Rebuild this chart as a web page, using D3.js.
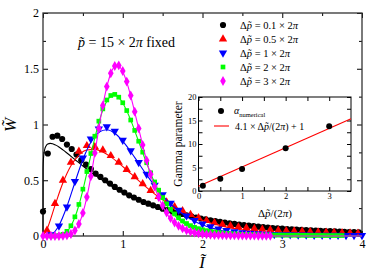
<!DOCTYPE html>
<html>
<head>
<meta charset="utf-8">
<script src="https://cdn.jsdelivr.net/npm/d3@7"></script>
<style>
  body { margin: 0; background: #fff; }
  svg { display: block; }
</style>
</head>
<body>
<div id="chart"></div>
<script>
// numerical distributions (markers) and gamma fits (lines)
const blackI = [0,0.06,0.12,0.18,0.24,0.30,0.36,0.42,0.48,0.54,0.60,0.66,0.72,0.78,0.84,0.90,0.96,1.02,1.08,1.14,1.20,1.26,1.32,1.38,1.44,1.50,1.56,1.62,1.68,1.74,1.80,1.86,1.92,1.98,2.04,2.10,2.16,2.22,2.28,2.34,2.40,2.46,2.52,2.58,2.64,2.70,2.76,2.82,2.88,2.94,3.00,3.06,3.12,3.18,3.24,3.30,3.36,3.42,3.48,3.54,3.60,3.66,3.72,3.78,3.84,3.90,3.96];
const blackW = [0.22,0.74,0.89,0.90,0.87,0.82,0.78,0.73,0.68,0.64,0.60,0.56,0.53,0.50,0.47,0.44,0.415,0.39,0.365,0.345,0.325,0.305,0.29,0.275,0.26,0.245,0.232,0.22,0.208,0.197,0.186,0.176,0.166,0.157,0.149,0.141,0.134,0.127,0.120,0.114,0.108,0.103,0.098,0.093,0.088,0.084,0.080,0.076,0.072,0.069,0.066,0.063,0.060,0.058,0.055,0.053,0.051,0.049,0.047,0.045,0.043,0.041,0.039,0.037,0.036,0.034,0.033];
const blackFitI = [0,0.001,0.003,0.01,0.02,0.04,0.06,0.09,0.12,0.16,0.2,0.25,0.3,0.4,0.5,0.6,0.7,0.8,0.9,1.0,1.2,1.4,1.6,1.8,2.0,2.25,2.5,2.75,3.0,3.25,3.5,3.75,4.0];
const blackFitW = [0,0.584,0.651,0.729,0.772,0.810,0.825,0.831,0.828,0.815,0.798,0.772,0.744,0.686,0.628,0.573,0.522,0.474,0.429,0.389,0.318,0.259,0.211,0.171,0.139,0.107,0.082,0.063,0.048,0.037,0.028,0.022,0.017];

const redI = [0.05,0.15,0.25,0.35,0.45,0.55,0.65,0.75,0.85,0.95,1.05,1.15,1.25,1.35,1.45,1.55,1.65,1.75,1.85,1.95,2.05,2.15,2.25,2.35,2.45,2.55,2.65,2.75,2.85,2.95,3.05,3.15,3.25,3.35,3.45,3.55,3.65,3.75,3.85,3.95];
const redW = [0.05,0.29,0.50,0.66,0.76,0.81,0.80,0.77,0.72,0.66,0.595,0.53,0.467,0.408,0.354,0.305,0.262,0.225,0.192,0.163,0.138,0.118,0.103,0.091,0.081,0.073,0.066,0.060,0.055,0.051,0.047,0.044,0.041,0.038,0.035,0.033,0.031,0.029,0.027,0.025];
const redFitI = [0,0.05,0.15,0.25,0.35,0.45,0.55,0.65,0.75,0.85,0.95,1.05,1.15,1.25,1.35,1.45,1.55,1.65,1.75,1.85,1.95,2.05,2.15,2.25,2.35,2.45,2.55,2.65,2.75,2.85,2.95,3.05,3.15,3.25,3.35,3.45,3.55,3.65,3.75,3.85,3.95];
const redFitW = [0,0.061,0.273,0.477,0.630,0.726,0.771,0.777,0.753,0.710,0.654,0.592,0.528,0.465,0.405,0.350,0.301,0.256,0.217,0.183,0.153,0.128,0.107,0.088,0.073,0.060,0.050,0.041,0.033,0.027,0.022,0.018,0.015,0.012,0.010,0.008,0.006,0.005,0.004,0.003,0.003];

const blueI = [0.1,0.2,0.3,0.4,0.5,0.6,0.7,0.8,0.9,1.0,1.1,1.2,1.3,1.4,1.5,1.6,1.7,1.8,1.9,2.0,2.1,2.2,2.3,2.4,2.5,2.6,2.7,2.8,2.9,3.0,3.1,3.2,3.3,3.4,3.5,3.6,3.7,3.8,3.9,4.0];
const blueW = [0.012,0.09,0.26,0.49,0.70,0.87,0.96,0.98,0.94,0.86,0.765,0.66,0.555,0.457,0.37,0.295,0.232,0.181,0.141,0.108,0.083,0.064,0.050,0.039,0.031,0.025,0.020,0.017,0.014,0.012,0.011,0.010,0.009,0.008,0.008,0.007,0.007,0.006,0.006,0.005];
const blueFitI = [0,0.1,0.2,0.3,0.4,0.5,0.6,0.7,0.8,0.9,1.0,1.1,1.2,1.3,1.4,1.5,1.6,1.7,1.8,1.9,2.0,2.1,2.2,2.3,2.4,2.5,2.6,2.7,2.8,2.9,3.0,3.5,4.0];
const blueFitW = [0,0.012,0.095,0.265,0.480,0.686,0.841,0.930,0.953,0.921,0.850,0.756,0.652,0.548,0.450,0.363,0.288,0.226,0.174,0.133,0.100,0.075,0.056,0.041,0.030,0.022,0.016,0.011,0.008,0.006,0.004,0.0006,0.0001];

const greenI = [0.10,0.15,0.20,0.25,0.30,0.35,0.40,0.45,0.50,0.55,0.60,0.65,0.70,0.75,0.80,0.85,0.90,0.95,1.00,1.05,1.10,1.15,1.20,1.25,1.30,1.35,1.40,1.45,1.50,1.55,1.60,1.65,1.70,1.75,1.80,1.85,1.90,1.95,2.00,2.05,2.10,2.15,2.20,2.25,2.30,2.35,2.40,2.45,2.50,2.55,2.60,2.65,2.70,2.75,2.80,2.85,2.90,2.95,3.00,3.05,3.10,3.15,3.20,3.25,3.30,3.35,3.40,3.45,3.50,3.55,3.60,3.65,3.70,3.75];
const greenW = [0.000,0.001,0.004,0.015,0.042,0.092,0.172,0.283,0.420,0.578,0.740,0.895,1.03,1.14,1.22,1.26,1.27,1.245,1.195,1.125,1.04,0.947,0.850,0.752,0.657,0.567,0.485,0.411,0.345,0.288,0.239,0.198,0.163,0.135,0.112,0.093,0.078,0.066,0.056,0.048,0.041,0.036,0.031,0.027,0.024,0.021,0.019,0.017,0.015,0.014,0.013,0.012,0.011,0.010,0.010,0.009,0.009,0.008,0.008,0.007,0.007,0.007,0.006,0.006,0.006,0.005,0.005,0.005,0.005,0.004,0.004,0.004,0.004,0.004];
const greenFitI = [0,0.1,0.15,0.2,0.25,0.3,0.35,0.4,0.45,0.5,0.55,0.6,0.65,0.7,0.75,0.8,0.85,0.9,0.95,1.0,1.05,1.1,1.15,1.2,1.25,1.3,1.35,1.4,1.45,1.5,1.55,1.6,1.65,1.7,1.75,1.8,1.85,1.9,1.95,2.0,2.05,2.1,2.15,2.2,2.25,2.3,2.35,2.4,3.0,4.0];
const greenFitW = [0,0.000,0.001,0.004,0.015,0.041,0.090,0.168,0.276,0.411,0.565,0.725,0.880,1.017,1.129,1.208,1.252,1.262,1.241,1.193,1.123,1.039,0.945,0.846,0.747,0.651,0.561,0.478,0.403,0.336,0.278,0.228,0.186,0.150,0.121,0.096,0.076,0.060,0.047,0.037,0.028,0.022,0.017,0.013,0.010,0.007,0.006,0.004,0.0001,0];

const magentaI = [0,0.05,0.10,0.15,0.20,0.25,0.30,0.35,0.40,0.45,0.50,0.55,0.60,0.65,0.70,0.75,0.80,0.85,0.90,0.95,1.00,1.05,1.10,1.15,1.20,1.25,1.30,1.35,1.40,1.45,1.50,1.55,1.60,1.65,1.70,1.75,1.80,1.85,1.90,1.95,2.00,2.05,2.10,2.15,2.20,2.25,2.30,2.35,2.40,2.45,2.50,2.55,2.60,2.65,2.70,2.75,2.80,2.85];
const magentaW = [0,0,0,0,0,0.001,0.005,0.018,0.049,0.108,0.207,0.350,0.535,0.745,0.965,1.17,1.34,1.46,1.525,1.53,1.48,1.385,1.26,1.115,0.965,0.817,0.678,0.553,0.443,0.350,0.273,0.210,0.160,0.121,0.091,0.068,0.051,0.039,0.030,0.023,0.018,0.014,0.011,0.009,0.008,0.007,0.006,0.005,0.005,0.004,0.004,0.003,0.003,0.003,0.002,0.002,0.002,0.002];
const magentaFitI = [0,0.25,0.3,0.35,0.4,0.45,0.5,0.55,0.6,0.65,0.7,0.75,0.8,0.85,0.9,0.95,1.0,1.05,1.1,1.15,1.2,1.25,1.3,1.35,1.4,1.45,1.5,1.55,1.6,1.65,1.7,1.75,1.8,1.85,1.9,1.95,2.0,2.05,2.1,2.5,4.0];
const magentaFitW = [0,0.001,0.005,0.017,0.047,0.106,0.205,0.348,0.532,0.743,0.963,1.168,1.338,1.458,1.520,1.523,1.473,1.380,1.255,1.112,0.962,0.814,0.674,0.548,0.438,0.344,0.266,0.203,0.153,0.114,0.084,0.061,0.044,0.031,0.022,0.015,0.011,0.007,0.005,0.0003,0];

// inset: gamma parameter against delta p
const gammaDp = [0.1, 0.5, 1, 2, 3];
const gammaAlpha = [1.1, 2.6, 4.7, 9.1, 13.8];
const gammaLineDp = [0, 3.5];
const gammaLineAlpha = [1, 15.35];

const legendLabels = ['0.1', '0.5', '1', '2', '3'];

const width = 374, height = 271;
const serif = "'Liberation Serif', 'DejaVu Serif', serif";

const svg = d3.select('#chart').append('svg')
  .attr('width', width)
  .attr('height', height)
  .style('font-family', serif);

const x = d3.scaleLinear().domain([0, 4]).range([43, 362]);
const y = d3.scaleLinear().domain([0, 2]).range([236, 13]);

const series = [
  { name: 'black', color: '#000000', shape: 'circle', I: blackI, W: blackW, fitI: blackFitI, fitW: blackFitW },
  { name: 'red', color: '#ff0000', shape: 'up', I: redI, W: redW, fitI: redFitI, fitW: redFitW },
  { name: 'blue', color: '#0000ff', shape: 'down', I: blueI, W: blueW, fitI: blueFitI, fitW: blueFitW },
  { name: 'green', color: '#00ff00', shape: 'square', I: greenI, W: greenW, fitI: greenFitI, fitW: greenFitW },
  { name: 'magenta', color: '#ff00ff', shape: 'diamond', I: magentaI, W: magentaW, fitI: magentaFitI, fitW: magentaFitW }
];

series.forEach((s) => {
  if (s.I.length !== s.W.length || s.fitI.length !== s.fitW.length) {
    throw new Error('length mismatch in ' + s.name + ': ' + s.I.length + '/' + s.W.length + ' ' + s.fitI.length + '/' + s.fitW.length);
  }
});

function symbolPath(shape) {
  switch (shape) {
    case 'circle': return d3.symbol().type(d3.symbolCircle).size(30)();
    case 'up':
    case 'down': return d3.symbol().type(d3.symbolTriangle).size(30)();
    case 'square': return d3.symbol().type(d3.symbolSquare).size(22)();
    case 'diamond':
    default: return d3.symbol().type(d3.symbolDiamond).size(28)();
  }
}

function placeSymbol(sel, shape, px, py) {
  sel.attr('transform', (d, i) => {
    let t = 'translate(' + px(d, i) + ',' + py(d, i) + ')';
    if (shape === 'down') t += ' rotate(180)';
    return t;
  });
}

//Axes with inward ticks on all four sides
function drawAxes(g, xs, ys, opt) {
  const [x0, x1] = xs.range();
  const [y0, y1] = ys.range();

  const bottom = g.append('g').attr('transform', 'translate(0,' + y0 + ')')
    .call(d3.axisBottom(xs).tickValues(opt.xMajor).tickSize(-opt.major).tickPadding(opt.xPad).tickFormat(opt.xFmt));
  g.append('g').attr('transform', 'translate(0,' + y0 + ')')
    .call(d3.axisBottom(xs).tickValues(opt.xMinor).tickSize(-opt.minor).tickFormat(''));
  g.append('g').attr('transform', 'translate(0,' + y1 + ')')
    .call(d3.axisTop(xs).tickValues(opt.xMajor).tickSize(-opt.major).tickFormat(''));
  g.append('g').attr('transform', 'translate(0,' + y1 + ')')
    .call(d3.axisTop(xs).tickValues(opt.xMinor).tickSize(-opt.minor).tickFormat(''));

  const left = g.append('g').attr('transform', 'translate(' + x0 + ',0)')
    .call(d3.axisLeft(ys).tickValues(opt.yMajor).tickSize(-opt.major).tickPadding(opt.yPad).tickFormat(opt.yFmt));
  g.append('g').attr('transform', 'translate(' + x0 + ',0)')
    .call(d3.axisLeft(ys).tickValues(opt.yMinor).tickSize(-opt.minor).tickFormat(''));
  g.append('g').attr('transform', 'translate(' + x1 + ',0)')
    .call(d3.axisRight(ys).tickValues(opt.yMajor).tickSize(-opt.major).tickFormat(''));
  g.append('g').attr('transform', 'translate(' + x1 + ',0)')
    .call(d3.axisRight(ys).tickValues(opt.yMinor).tickSize(-opt.minor).tickFormat(''));

  g.selectAll('.domain').remove();
  g.selectAll('.tick line').attr('stroke', '#000');
  g.selectAll('.tick text')
    .attr('fill', '#000')
    .style('font-family', serif)
    .style('font-size', opt.fontSize + 'px');

  g.append('rect')
    .attr('x', x0).attr('y', y1)
    .attr('width', x1 - x0).attr('height', y0 - y1)
    .attr('fill', 'none')
    .attr('stroke', opt.frame)
    .attr('stroke-width', opt.frameWidth);
}

const main = svg.append('g').attr('class', 'main');

drawAxes(main, x, y, {
  xMajor: [0, 1, 2, 3, 4], xMinor: [0.5, 1.5, 2.5, 3.5],
  yMajor: [0, 0.5, 1, 1.5, 2], yMinor: [0.25, 0.75, 1.25, 1.75],
  major: 5, minor: 3, xPad: 3, yPad: 4,
  xFmt: d3.format('d'), yFmt: (d) => String(d),
  fontSize: 12, frame: '#333', frameWidth: 1.3
});

const line = d3.line()
  .curve(d3.curveMonotoneX)
  .x((d) => x(d[0]))
  .y((d) => y(d[1]));

const plot = main.append('g').attr('class', 'plot');

series.forEach((s) => {
  const pts = d3.zip(s.I, s.W);
  const fit = d3.zip(s.fitI, s.fitW);

  if (s.name === 'black') {
    plot.append('g').selectAll('path')
      .data(pts).enter().append('path')
      .attr('d', symbolPath(s.shape))
      .attr('fill', s.color)
      .call(placeSymbol, s.shape, (d) => x(d[0]), (d) => y(d[1]));
    plot.append('path')
      .attr('d', line(fit))
      .attr('fill', 'none')
      .attr('stroke', s.color)
      .attr('stroke-width', 1.1);
    return;
  }

  plot.append('path')
    .attr('d', line(fit))
    .attr('fill', 'none')
    .attr('stroke', s.color)
    .attr('stroke-width', 1.1);

  plot.append('g').selectAll('path')
    .data(pts).enter().append('path')
    .attr('d', symbolPath(s.shape))
    .attr('fill', s.color)
    .call(placeSymbol, s.shape, (d) => x(d[0]), (d) => y(d[1]));
});

// plot title
const title = main.append('text')
  .attr('x', 78).attr('y', 47)
  .style('font-size', '14px');
title.append('tspan').style('font-style', 'italic').text('p\u0303');
title.append('tspan').text(' = 15 \u00d7 2');
title.append('tspan').style('font-style', 'italic').text('\u03c0');
title.append('tspan').text(' fixed');

// legend
const legend = main.append('g').attr('class', 'legend');
series.forEach((s, i) => {
  const ly = 25 + i * 14;
  legend.append('path')
    .datum(i)
    .attr('d', symbolPath(s.shape))
    .attr('fill', s.color)
    .call(placeSymbol, s.shape, () => 223, () => ly);
  const t = legend.append('text')
    .attr('x', 240).attr('y', ly + 3.5)
    .style('font-size', '10.5px');
  t.append('tspan').text('\u0394');
  t.append('tspan').style('font-style', 'italic').text('p\u0303');
  t.append('tspan').text(' = ' + legendLabels[i] + ' \u00d7 2');
  t.append('tspan').style('font-style', 'italic').text('\u03c0');
});

// axis labels
svg.append('text')
  .attr('transform', 'translate(16,125) rotate(-90)')
  .attr('text-anchor', 'middle')
  .style('font-size', '17px')
  .style('font-style', 'italic')
  .text('W\u0303');

svg.append('text')
  .attr('x', 202).attr('y', 268)
  .attr('text-anchor', 'middle')
  .style('font-size', '17px')
  .style('font-style', 'italic')
  .text('I\u0303');

// inset
const ix = d3.scaleLinear().domain([0, 3.5]).range([198.5, 351]);
const iy = d3.scaleLinear().domain([0, 20]).range([191, 97]);

const inset = svg.append('g').attr('class', 'inset');
inset.append('rect')
  .attr('x', 198.5).attr('y', 97)
  .attr('width', 351 - 198.5).attr('height', 191 - 97)
  .attr('fill', '#fff');

drawAxes(inset, ix, iy, {
  xMajor: [0, 1, 2, 3], xMinor: [0.5, 1.5, 2.5],
  yMajor: [0, 5, 10, 15, 20], yMinor: [2.5, 7.5, 12.5, 17.5],
  major: 4, minor: 4, xPad: 2, yPad: 2,
  xFmt: d3.format('d'), yFmt: d3.format('d'),
  fontSize: 8.5, frame: '#000', frameWidth: 1
});

const iline = d3.line().x((d) => ix(d[0])).y((d) => iy(d[1]));
inset.append('path')
  .attr('d', iline(d3.zip(gammaLineDp, gammaLineAlpha)))
  .attr('stroke', '#ff0000')
  .attr('stroke-width', 1.1)
  .attr('fill', 'none');

inset.selectAll('circle.pt')
  .data(d3.zip(gammaDp, gammaAlpha)).enter()
  .append('circle')
  .attr('class', 'pt')
  .attr('cx', (d) => ix(d[0]))
  .attr('cy', (d) => iy(d[1]))
  .attr('r', 3)
  .attr('fill', '#000');

// inset legend
inset.append('circle').attr('cx', 221).attr('cy', 111).attr('r', 3).attr('fill', '#000');
const a = inset.append('text').attr('x', 234).attr('y', 114).style('font-size', '10px');
a.append('tspan').style('font-style', 'italic').text('\u03b1');
a.append('tspan').attr('dy', 2.5).style('font-size', '6.5px').text('numerical');

inset.append('line')
  .attr('x1', 214).attr('x2', 229).attr('y1', 126).attr('y2', 126)
  .attr('stroke', '#ff0000').attr('stroke-width', 1.1);
const f = inset.append('text').attr('x', 235).attr('y', 129.5).style('font-size', '10px');
f.append('tspan').text('4.1 \u00d7 \u0394');
f.append('tspan').style('font-style', 'italic').text('p\u0303');
f.append('tspan').text('/(2');
f.append('tspan').style('font-style', 'italic').text('\u03c0');
f.append('tspan').text(') + 1');

// inset axis labels
const ixl = inset.append('text')
  .attr('x', 275).attr('y', 217)
  .attr('text-anchor', 'middle')
  .style('font-size', '11px');
ixl.append('tspan').text('\u0394');
ixl.append('tspan').style('font-style', 'italic').text('p\u0303');
ixl.append('tspan').text('/(2');
ixl.append('tspan').style('font-style', 'italic').text('\u03c0');
ixl.append('tspan').text(')');

inset.append('text')
  .attr('transform', 'translate(182,144) rotate(-90)')
  .attr('text-anchor', 'middle')
  .style('font-size', '11.5px')
  .text('Gamma parameter');
</script>
</body>
</html>
